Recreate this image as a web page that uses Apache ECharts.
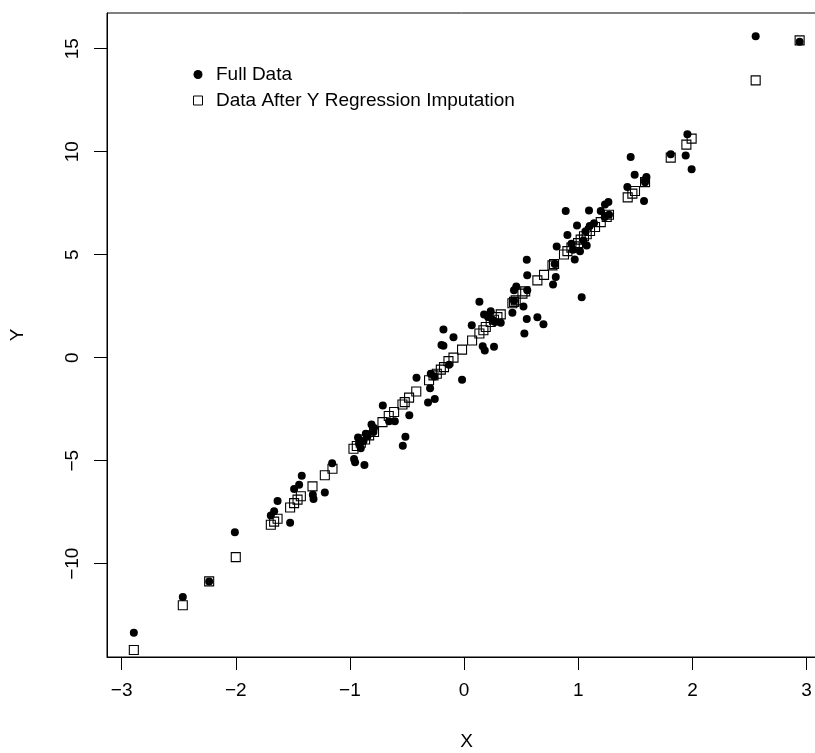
<!DOCTYPE html>
<html>
<head>
<meta charset="utf-8">
<script src="https://cdn.jsdelivr.net/npm/echarts@6/dist/echarts.min.js"></script>
<style>
  html, body { margin: 0; padding: 0; background: #fff; }
  #chart { width: 815px; height: 753px; }
</style>
</head>
<body>
<div id="chart"></div>
<script>
// Full data: observed X and Y
const fullX = [
  -2.893, -2.464, -2.233, -2.008, -1.693, -1.664, -1.634, -1.524, -1.489, -1.445,
  -1.422, -1.325, -1.319, -1.220, -1.156, -0.964, -0.955, -0.873, -0.929, -0.881,
  -0.920, -0.905, -0.861, -0.846, -0.811, -0.789, -0.794, -0.712, -0.657, -0.607,
  -0.537, -0.514, -0.480, -0.417, -0.316, -0.298, -0.292, -0.263, -0.257, -0.198,
  -0.181, -0.181, -0.132, -0.093, -0.018, 0.067, 0.134, 0.163, 0.181, 0.262,
  0.175, 0.233, 0.210, 0.248, 0.271, 0.321, 0.423, 0.437, 0.457, 0.520,
  0.528, 0.549, 0.553, 0.642, 0.695, 0.553, 0.549, 0.779, 0.803, 0.811,
  0.890, 0.905, 0.940, 0.954, 0.969, 0.989, 1.015, 1.030, 1.045, 1.065,
  1.074, 1.094, 1.100, 1.138, 1.197, 1.232, 1.234, 1.264, 1.430, 1.459,
  1.494, 1.576, 1.597, 1.585, 1.810, 1.941, 1.956, 1.993, 2.554, 2.939,
  0.794, 0.437, 1.269, 1.585
];
const fullY = [
  -13.35, -11.62, -10.86, -8.48, -7.66, -7.46, -6.96, -8.01, -6.38, -6.17,
  -5.73, -6.65, -6.86, -6.54, -5.12, -4.92, -5.08, -5.21, -3.88, -4.05,
  -4.17, -4.40, -3.69, -3.82, -3.25, -3.42, -3.61, -2.32, -3.09, -3.09,
  -4.27, -3.84, -2.79, -0.97, -2.18, -1.48, -0.78, -0.91, -2.01, 0.61,
  0.58, 1.37, -0.34, 0.99, -1.07, 1.57, 2.72, 0.55, 0.35, 0.53,
  2.10, 2.25, 1.97, 1.84, 1.73, 1.70, 2.18, 3.27, 3.46, 2.48,
  1.17, 1.88, 3.27, 1.96, 1.62, 4.00, 4.75, 3.55, 3.91, 5.40,
  7.12, 5.95, 5.53, 5.24, 4.77, 6.41, 5.17, 2.93, 5.69, 6.13,
  5.45, 7.14, 6.39, 6.53, 7.12, 6.83, 7.43, 7.55, 8.28, 9.74,
  8.88, 7.61, 8.77, 8.63, 9.87, 9.81, 10.85, 9.14, 15.60, 15.33,
  4.55, 2.76, 6.94, 8.52
];

// Data after Y regression imputation
const imputedX = [
  -2.893, -2.464, -2.233, -2.000, -1.693, -1.664, -1.634, -1.524, -1.489, -1.459,
  -1.430, -1.328, -1.220, -1.153, -0.969, -0.940, -0.905, -0.867, -0.832, -0.789,
  -0.715, -0.660, -0.613, -0.540, -0.520, -0.482, -0.419, -0.307, -0.268, -0.239,
  -0.204, -0.176, -0.137, -0.093, -0.018, 0.070, 0.134, 0.169, 0.190, 0.233,
  0.262, 0.292, 0.321, 0.423, 0.437, 0.452, 0.511, 0.535, 0.642, 0.700,
  0.774, 0.788, 0.875, 0.905, 0.940, 0.969, 0.998, 1.021, 1.050, 1.074,
  1.103, 1.147, 1.197, 1.249, 1.269, 1.433, 1.474, 1.497, 1.585, 1.810,
  1.947, 1.993, 2.554, 2.939
];
const imputedY = [
  -14.19, -12.02, -10.86, -9.68, -8.11, -7.96, -7.82, -7.27, -7.06, -6.89,
  -6.73, -6.25, -5.71, -5.39, -4.42, -4.29, -4.13, -3.97, -3.77, -3.61,
  -3.13, -2.83, -2.64, -2.27, -2.16, -1.94, -1.64, -1.10, -0.86, -0.78,
  -0.58, -0.46, -0.17, 0.00, 0.39, 0.83, 1.17, 1.33, 1.49, 1.73,
  1.84, 1.97, 2.10, 2.64, 2.71, 2.78, 3.11, 3.22, 3.75, 4.02,
  4.48, 4.55, 5.01, 5.17, 5.34, 5.40, 5.56, 5.73, 5.89, 5.99,
  6.15, 6.34, 6.58, 6.83, 6.94, 7.78, 7.96, 8.09, 8.52, 9.71,
  10.34, 10.63, 13.46, 15.40
];

const xTicks = [-3, -2, -1, 0, 1, 2, 3];
const yTicks = [-10, -5, 0, 5, 10, 15];

const seriesNames = ['Full Data', 'Data After Y Regression Imputation'];

const pairs = (xs, ys) => xs.map((x, i) => [x, ys[i]]);
const minusSign = v => String(v).replace('-', '\u2212');

const FONT = 'Liberation Sans, Arial, Helvetica, sans-serif';
// open square drawn as a path so the legend keeps it square
const SQUARE_ICON = 'path://M0,0H10V10H0Z';

const chart = echarts.init(document.getElementById('chart'), null, { renderer: 'canvas' });

chart.setOption({
  animation: false,
  backgroundColor: '#ffffff',
  textStyle: { fontFamily: FONT, color: '#000' },
  grid: {
    left: 107, top: 13, right: -11, bottom: 96,
    show: true, borderColor: '#000', borderWidth: 1,
    backgroundColor: 'transparent',
    containLabel: false, outerBoundsMode: 'none'
  },
  legend: {
    orient: 'vertical',
    left: 188, top: 60,
    itemWidth: 26, itemHeight: 9, itemGap: 7,
    symbolKeepAspect: true,
    textStyle: { fontFamily: FONT, fontSize: 19, color: '#000' },
    data: [
      { name: seriesNames[0], icon: 'circle', itemStyle: { color: '#000' } },
      { name: seriesNames[1], icon: SQUARE_ICON, itemStyle: { color: '#fff', borderColor: '#000', borderWidth: 1 } }
    ],
    selectedMode: false
  },
  xAxis: {
    type: 'value',
    min: -3.128, max: 3.17,
    name: 'X', nameLocation: 'middle', nameGap: 75,
    nameTextStyle: { fontFamily: FONT, fontSize: 19, color: '#000' },
    splitLine: { show: false },
    axisLine: { show: true, onZero: false, lineStyle: { color: '#000', width: 1 } },
    axisTick: { show: true, length: 13, inside: false, customValues: xTicks, lineStyle: { color: '#000' } },
    axisLabel: {
      customValues: xTicks, margin: 24, fontSize: 19, fontFamily: FONT, color: '#000',
      formatter: minusSign
    }
  },
  yAxis: {
    type: 'value',
    min: -14.53, max: 16.73,
    name: 'Y', nameLocation: 'middle', nameGap: 80, nameRotate: 90,
    nameTextStyle: { fontFamily: FONT, fontSize: 19, color: '#000' },
    splitLine: { show: false },
    axisLine: { show: true, onZero: false, lineStyle: { color: '#000', width: 1 } },
    axisTick: { show: true, length: 13, inside: false, customValues: yTicks, lineStyle: { color: '#000' } },
    axisLabel: {
      customValues: yTicks, rotate: 90, margin: 25, fontSize: 19, fontFamily: FONT, color: '#000',
      formatter: minusSign
    }
  },
  series: [
    {
      name: seriesNames[0],
      type: 'scatter',
      symbol: 'circle',
      symbolSize: 8,
      itemStyle: { color: '#000', opacity: 1 },
      data: pairs(fullX, fullY),
      z: 2
    },
    {
      name: seriesNames[1],
      type: 'scatter',
      symbol: 'rect',
      symbolSize: 9,
      itemStyle: { color: 'transparent', borderColor: '#000', borderWidth: 1.1, opacity: 1 },
      data: pairs(imputedX, imputedY),
      z: 3
    }
  ]
});
</script>
</body>
</html>
